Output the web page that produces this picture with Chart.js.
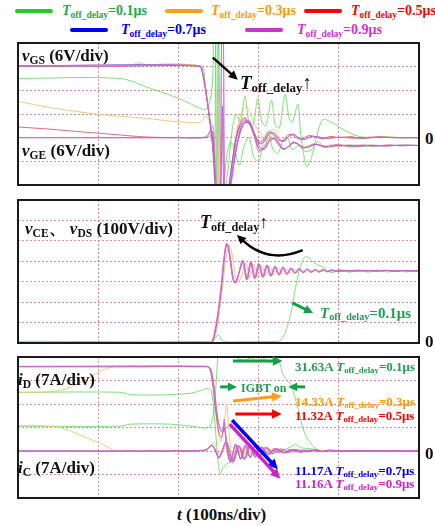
<!DOCTYPE html>
<html>
<head>
<meta charset="utf-8">
<script src="https://cdn.jsdelivr.net/npm/chart.js@4.4.0/dist/chart.umd.min.js"></script>
<style>
body { margin: 0; background: #fff; }
#wrap { position: relative; width: 435px; height: 526px; font-family: "Liberation Serif", "Times New Roman", serif; font-weight: bold; overflow: hidden; }
.p { position: absolute; }
.t { position: absolute; white-space: nowrap; line-height: 1; transform: translateY(-50%); z-index: 5; }
.t i { font-style: italic; }
.t sub { font-size: 0.68em; vertical-align: -0.28em; line-height: 0; }
.sw { position: absolute; height: 4px; border-radius: 2px; }
</style>
</head>
<body>
<div id="wrap">
  <div class="p" style="left:16px;top:41px;width:405px;height:146px"><canvas id="c1"></canvas></div>
  <div class="p" style="left:16px;top:198px;width:405px;height:147px"><canvas id="c2"></canvas></div>
  <div class="p" style="left:16px;top:355px;width:405px;height:145px"><canvas id="c3"></canvas></div>

  <!-- legend -->
  <div class="sw" style="left:15px;top:9px;width:38px;background:#22cc22"></div>
  <div class="t" style="left:62px;top:11px;font-size:14px;color:#22aa44"><i>T</i><sub>off_delay</sub>=0.1μs</div>
  <div class="sw" style="left:165px;top:9px;width:38px;background:#ff9c1a"></div>
  <div class="t" style="left:211px;top:11px;font-size:14px;color:#ff9900"><i>T</i><sub>off_delay</sub>=0.3μs</div>
  <div class="sw" style="left:304px;top:9px;width:38px;background:#ff0000"></div>
  <div class="t" style="left:351px;top:11px;font-size:14px;color:#ff0000"><i>T</i><sub>off_delay</sub>=0.5μs</div>
  <div class="sw" style="left:70px;top:28px;width:38px;background:#0000ff"></div>
  <div class="t" style="left:121px;top:30px;font-size:14px;color:#0000ee"><i>T</i><sub>off_delay</sub>=0.7μs</div>
  <div class="sw" style="left:245px;top:28px;width:38px;background:#cc33cc"></div>
  <div class="t" style="left:297px;top:30px;font-size:14px;color:#cc33cc"><i>T</i><sub>off_delay</sub>=0.9μs</div>

  <!-- panel 1 -->
  <div class="t" style="left:22px;top:55px;font-size:17px;color:#111"><i>v</i><sub>GS</sub> (6V/div)</div>
  <div class="t" style="left:22px;top:150px;font-size:17px;color:#111"><i>v</i><sub>GE</sub> (6V/div)</div>
  <div class="t" style="left:240px;top:82px;font-size:19px;color:#111"><i>T</i><sub>off_delay</sub><span style="font-weight:normal">↑</span></div>
  <div class="t" style="left:425px;top:138px;font-size:17px;color:#111">0</div>

  <!-- panel 2 -->
  <div class="t" style="left:25px;top:228px;font-size:17px;color:#111"><i>v</i><sub>CE</sub>、 <i>v</i><sub>DS</sub> (100V/div)</div>
  <div class="t" style="left:200px;top:222px;font-size:18px;color:#111"><i>T</i><sub>off_delay</sub><span style="font-weight:normal">↑</span></div>
  <div class="t" style="left:320px;top:313px;font-size:15px;color:#20a050"><i>T</i><sub>off_delay</sub>=0.1μs</div>
  <div class="t" style="left:425px;top:341px;font-size:17px;color:#111">0</div>

  <!-- panel 3 -->
  <div class="t" style="left:18px;top:379px;font-size:17px;color:#111"><i>i</i><sub>D</sub> (7A/div)</div>
  <div class="t" style="left:18px;top:467px;font-size:17px;color:#111"><i>i</i><sub>C</sub> (7A/div)</div>
  <div class="t" style="left:295px;top:366px;font-size:13px;color:#20a050">31.63A <i>T</i><sub>off_delay</sub>=0.1μs</div>
  <div class="t" style="left:241px;top:388px;font-size:12px;color:#20a050">IGBT on</div>
  <div class="t" style="left:295px;top:401px;font-size:13px;color:#ff9900">14.33A <i>T</i><sub>off_delay</sub>=0.3μs</div>
  <div class="t" style="left:295px;top:415px;font-size:13px;color:#ff0000">11.32A <i>T</i><sub>off_delay</sub>=0.5μs</div>
  <div class="t" style="left:295px;top:470px;font-size:13px;color:#0000ee">11.17A <i>T</i><sub>off_delay</sub>=0.7μs</div>
  <div class="t" style="left:295px;top:483px;font-size:13px;color:#cc22cc">11.16A <i>T</i><sub>off_delay</sub>=0.9μs</div>
  <div class="t" style="left:425px;top:453px;font-size:17px;color:#111">0</div>

  <div class="t" style="left:177px;top:514px;font-size:17px;color:#111"><i>t</i> (100ns/div)</div>
</div>

<script>
// time axis in ns (5 div x 100ns)
const timeMin = 0;
const timeMax = 500;

// panel 1: gate voltages, V
const vgsGreen = [[0,18.2],[120,18.2],[228,18.2],[233,14],[238,6],[242,0],[245,-10],[247,30],[249,30],[251,-15],[255,-15],[260,-5],[265,-1],[270,-3],[276,-7],[282,-2],[288,0],[294,-5],[300,-6],[306,-1],[312,1],[318,-3],[324,-4],[330,-1],[336,0],[342,-3],[350,-2],[358,-3.5],[366,-3],[374,-1],[382,-2.5],[390,-2],[400,-2.2],[415,-1.8],[430,-2.2],[450,-2],[475,-1.9],[500,-2]];
const vgsOrange = [[0,18.3],[80,18.2],[140,18.2],[150,19],[160,18.5],[175,18.2],[226,18.2],[231,15],[236,9],[240,4],[243,-2],[246,-10],[249,-15],[251,10],[253,-15],[258,-15],[262,-15],[266,-10],[270,-2],[275,3],[281,5],[287,4],[293,1],[298,-2],[303,-3.5],[308,-2],[313,0],[318,0.5],[324,-1],[330,-3],[336,-2.5],[342,-1],[348,-1.5],[354,-2.5],[362,-2],[370,-1.6],[380,-2.3],[390,-1.8],[400,-2.2],[412,-1.9],[425,-2.1],[440,-1.9],[455,-2.1],[470,-2],[485,-2],[500,-2]];
const vgsRed = [[0,18.1],[120,18.1],[225,18.1],[230,16.5],[234,12],[238,6],[241,1],[244,-5],[247,-13],[251,-15],[255,-13],[259,-15],[264,-13],[268,-8],[273,-2],[278,2.5],[284,4],[290,3],[296,0],[302,-2.5],[308,-2.8],[314,-1],[320,-0.2],[326,-1.5],[332,-2.8],[338,-2.2],[344,-1.3],[350,-1.7],[357,-2.5],[364,-2.2],[372,-1.7],[380,-2.1],[390,-2.3],[400,-1.9],[412,-2],[425,-2.2],[440,-1.9],[455,-2.1],[470,-2],[485,-1.9],[500,-2]];
const vgsBlue = [[0,18.2],[226,18.2],[231,15.5],[235,10.5],[239,4.5],[242,-0.5],[245,-8],[248,-15],[253,-14],[257,-15],[262,-14],[267,-9],[272,-3],[277,1.5],[283,3.8],[289,3.5],[295,0.2],[301,-3],[307,-2.8],[313,-0.8],[319,-0.2],[325,-1.8],[331,-2.9],[337,-2.3],[343,-1.3],[349,-1.6],[355,-2.5],[362,-2.3],[370,-1.7],[378,-2],[386,-2.3],[395,-1.9],[405,-2],[418,-2.2],[432,-1.9],[448,-2.1],[465,-2],[482,-1.9],[500,-2]];
const vgsMagenta = [[0,18.2],[120,18.2],[226,18.2],[231,16],[235,11],[239,5],[242,0],[245,-7],[248,-15],[252,-12],[254,26],[256,26],[258,-15],[263,-14],[267,-10],[271,-4],[277,1],[283,4],[289,4.2],[295,0.5],[300,-3.5],[306,-2.5],[312,-0.5],[318,0],[324,-1.5],[330,-3],[336,-2.5],[342,-1.2],[348,-1.5],[354,-2.6],[361,-2.4],[368,-1.6],[375,-1.8],[382,-2.4],[390,-2.1],[398,-1.7],[406,-2],[414,-2.3],[422,-1.9],[432,-1.9],[442,-2.2],[452,-2],[464,-1.8],[476,-2.1],[488,-2],[500,-1.9]];

const vgeGreen = [[0,15],[127,15],[165,12.5],[200,10],[231,7.1],[235,7.3],[238,8.5],[241,11],[243,16],[244,30],[246,30],[248,-15],[250,28],[253,-10],[257,-14],[262,-8],[267,2],[272,6],[277,4],[283,10.5],[288,4],[293,3],[299,10],[304,4],[309,3],[316,9.5],[321,3],[326,2.5],[333,11],[338,5],[342,4],[349,8.5],[352,2],[356,-4],[360,-7.3],[366,-5],[372,0],[380,4.6],[390,4],[402,2.5],[414,1.2],[426,0.3],[440,0],[460,0.2],[480,0],[500,0]];
const vgeOrange = [[0,9.2],[25,8.2],[50,7.3],[75,6.6],[100,5.9],[130,5.4],[160,4.9],[190,4.2],[220,3.8],[228,4],[234,5.4],[239,4],[242,0],[246,-8],[248,-15],[252,-15],[256,5],[258,-12],[262,-15],[268,-8],[273,2],[278,6],[284,8],[290,6],[296,3],[302,1],[308,-1],[314,1.5],[320,2],[326,0],[332,-1],[338,0.5],[344,1],[350,0],[356,-0.5],[362,0.5],[370,0.3],[380,-0.3],[390,0.3],[400,0],[415,0.3],[430,-0.2],[450,0.2],[475,0],[500,0]];
const vgeRed = [[0,2.7],[30,2.3],[60,1.8],[90,1.3],[120,0.8],[150,0.3],[170,0.1],[200,0],[235,0],[240,0.5],[243,1.5],[246,-10],[249,-15],[253,-15],[257,-12],[261,-14],[266,-8],[271,-1],[276,3],[282,5],[288,4],[294,1.5],[300,-1],[306,-0.5],[312,1.5],[318,1],[324,-0.5],[330,-0.8],[336,0.6],[342,0.8],[348,-0.2],[355,-0.3],[362,0.5],[370,0.2],[380,-0.2],[390,0.3],[400,0],[415,0.2],[430,-0.2],[450,0.2],[470,0],[500,0]];
const vgeBlue = [[0,0],[200,0],[232,0],[237,0.5],[241,2],[244,-3],[247,-15],[252,-14],[255,8],[257,-15],[262,-13],[267,-6],[272,0],[277,3],[283,4.5],[289,3.5],[295,1],[301,-1.5],[307,-1],[313,1],[319,1.2],[325,-0.3],[331,-1],[337,0.2],[343,0.8],[350,0],[357,-0.5],[365,0.3],[375,0.2],[385,-0.2],[400,0.1],[420,-0.1],[440,0.1],[470,0],[500,0]];
const vgeMagenta = [[0,0],[225,0],[234,0.3],[239,1.5],[243,3],[245,-2],[248,-14],[252,-15],[254,25],[256,25],[258,-15],[263,-14],[268,-7],[273,0],[278,3],[284,4.5],[290,3.5],[296,0.5],[302,-1.5],[308,-0.5],[314,1],[320,1],[326,-0.5],[332,-0.8],[338,0.5],[344,0.7],[351,-0.2],[358,-0.4],[366,0.3],[376,0.1],[386,-0.2],[400,0.1],[420,-0.1],[440,0.1],[470,0],[500,0]];

// panel 2: vCE / vDS, V
const vceGreen = [[0,8],[240,8],[245,20],[250,39],[254,15],[258,6],[280,6],[310,7],[325,9],[330,25],[335,70],[340,140],[343,202],[347,290],[351,360],[355,405],[358,422],[362,420],[366,405],[370,392],[374,382],[380,372],[387,350],[393,345],[399,356],[405,357],[411,347],[417,349],[423,358],[429,355],[435,347],[441,350],[447,357],[453,355],[459,348],[465,350],[471,356],[477,355],[483,348],[489,350],[495,356],[500,354]];
const vceOrange = [[0,0],[240,0],[244,8],[248,70],[252,170],[255,270],[258,380],[261,450],[263,478],[266,455],[269,380],[272,318],[275,300],[279,330],[284,392],[289,320],[294,385],[299,325],[304,378],[309,330],[314,374],[319,334],[324,370],[329,338],[334,366],[339,341],[344,363],[349,344],[354,361],[359,346],[364,359],[369,348],[374,358],[379,349],[384,357],[389,350],[394,356],[400,351],[410,355],[420,351],[430,355],[440,351],[450,355],[460,351],[470,355],[480,351],[490,355],[500,352]];
const vceRed = [[0,0],[239,0],[243,10],[247,75],[251,180],[254,280],[257,395],[259,460],[261,485],[263,465],[266,385],[269,312],[272,295],[276,345],[281,400],[286,312],[291,394],[296,318],[301,386],[306,324],[311,380],[316,329],[321,374],[326,334],[331,370],[336,338],[341,366],[346,342],[351,363],[356,345],[361,361],[366,347],[371,359],[376,348],[381,358],[386,349],[391,357],[396,350],[402,356],[410,351],[420,356],[430,351],[440,356],[450,351],[460,356],[470,351],[480,356],[490,351],[500,354]];
const vceBlue = [[0,0],[238,0],[242,6],[246,65],[250,165],[253,265],[256,385],[258,450],[260,486],[262,468],[265,392],[268,312],[271,294],[275,338],[280,404],[285,310],[290,396],[295,316],[300,388],[305,322],[310,380],[315,328],[320,374],[325,334],[330,370],[335,338],[340,366],[345,342],[350,363],[355,345],[360,361],[365,347],[370,359],[375,348],[380,358],[386,349],[392,357],[400,350],[410,356],[420,351],[432,356],[445,351],[458,356],[470,351],[485,355],[500,352]];
const vceMagenta = [[0,0],[238,0],[242,8],[246,70],[250,170],[253,270],[256,390],[258,455],[260,488],[262,470],[265,390],[268,310],[271,292],[275,340],[280,406],[285,308],[290,398],[295,314],[300,390],[305,320],[310,382],[315,326],[320,376],[325,332],[330,372],[335,336],[340,368],[345,340],[350,365],[355,343],[360,362],[365,345],[370,361],[375,347],[380,360],[385,348],[390,359],[395,349],[400,358],[405,350],[410,357],[415,350],[420,357],[425,351],[430,357],[435,351],[440,356],[445,351],[450,356],[455,351],[460,356],[465,351],[470,356],[475,351],[480,356],[485,351],[490,356],[495,351],[500,355]];

// panel 3: iD (upper) and iC (lower), A
const idGreen = [[0,17.5],[127,17.5],[140,16.8],[180,16.7],[215,17.2],[228,18],[236,18.6],[241,18],[245,10],[249,-2],[252,-6.8],[256,-5],[260,-3.9],[265,-3],[270,-1.5],[275,-0.5],[280,0.5],[285,-0.8],[290,0.8],[295,-0.5],[300,0.6],[306,-0.3],[312,0.5],[320,-0.2],[330,0.3],[340,1.2],[346,2],[352,1],[360,0.8],[370,0.5],[380,0],[390,0.2],[400,-0.1],[420,0.1],[440,0],[460,0.1],[480,0],[500,0]];
const idOrange = [[0,17.5],[30,17.5],[45,17.8],[60,18.5],[75,20],[90,22],[105,24],[120,25.2],[130,25],[140,25.4],[155,24.9],[170,25.3],[185,25],[200,25.3],[215,25],[230,25.2],[237,25],[241,23],[244,19],[247,12],[250,5],[253,3],[257,8],[260,14],[263,6],[266,-1],[269,-2.5],[272,1.5],[276,-1],[280,-2],[284,1.2],[288,0.8],[292,-1.2],[296,-0.3],[300,1],[305,0.4],[310,-0.8],[315,-0.3],[320,0.6],[326,0.2],[332,-0.5],[340,0.3],[350,-0.2],[360,0.3],[372,-0.2],[385,0.2],[400,-0.1],[415,0.2],[430,-0.1],[450,0.1],[470,0],[500,0]];
const idRed = [[0,25.1],[120,25.1],[235,25.1],[239,24.5],[242,21],[245,15],[248,9],[251,5],[254,4],[257,7],[260,2],[263,-2.5],[266,-3],[269,0.5],[272,1.8],[275,-1],[278,-2.2],[281,0.5],[284,1.6],[287,-0.8],[290,-1.8],[293,0.4],[296,1.3],[300,-0.6],[304,-1.2],[308,0.6],[312,0.9],[316,-0.6],[320,-0.7],[325,0.5],[330,0.5],[335,-0.4],[340,-0.3],[346,0.4],[352,0.2],[358,-0.3],[365,0],[372,0.3],[380,-0.2],[390,0.2],[400,-0.2],[412,0.1],[425,-0.1],[440,0.1],[460,0],[480,0.1],[500,0]];
const idBlue = [[0,25.2],[236,25.2],[240,24.4],[243,21.5],[246,15.5],[249,9.5],[252,6.5],[255,5.5],[257,8.5],[259,4.5],[262,-1.5],[265,-3.2],[268,-0.5],[271,2],[274,0.8],[277,-2.3],[280,-1.3],[283,1.7],[286,0.8],[289,-1.8],[292,-0.8],[295,1.4],[298,0.6],[301,-1.3],[305,-0.6],[309,1],[313,0.4],[317,-0.8],[321,0.6],[326,-0.5],[331,0.5],[336,-0.4],[342,0.4],[348,-0.3],[355,0.3],[362,-0.2],[370,0.2],[380,-0.2],[392,0.1],[405,-0.1],[420,0.1],[440,0],[460,0.1],[480,0],[500,0]];
const idMagenta = [[0,25.2],[120,25.2],[236,25.2],[240,24.6],[243,22],[246,16],[249,10],[252,7],[255,6],[257,9.5],[259,5],[262,-1],[265,-3.5],[268,-1],[271,2],[274,1],[277,-2.5],[280,-1.5],[283,1.8],[286,1],[289,-2],[292,-1],[295,1.5],[298,0.8],[301,-1.5],[304,-0.8],[307,1.2],[311,0.5],[315,-1],[319,0.8],[323,-0.6],[327,0.6],[332,-0.5],[337,0.5],[342,-0.4],[347,0.4],[352,-0.3],[358,0.3],[364,-0.3],[370,0.3],[378,-0.2],[386,0.2],[394,-0.2],[402,0.2],[412,-0.1],[422,0.1],[435,-0.1],[450,0.1],[465,0],[480,0.1],[500,0]];

const icGreen = [[0,7.4],[127,7.4],[140,8],[190,8],[215,7.4],[228,7],[235,6.8],[240,7.5],[244,12],[247,20],[249,28],[251,32],[260,33],[268,29],[275,27.5],[282,27],[290,27.7],[298,26.8],[306,27.5],[314,26.5],[322,27],[326,26.5],[330,23],[335,21],[340,20],[345,16],[350,12],[355,7],[360,4],[366,2],[372,0.6],[380,0],[390,0.4],[400,0],[420,0.2],[440,0],[460,0.1],[480,0],[500,0]];
const icOrange = [[0,7.5],[30,7.5],[45,7.2],[60,6.5],[75,5],[90,3.5],[105,2],[118,0.3],[125,-0.2],[135,0.3],[150,-0.2],[165,0.3],[180,-0.2],[195,0.3],[210,0],[225,0.2],[235,0.6],[240,1.6],[244,2.5],[248,0.5],[252,-1.5],[256,0],[260,2],[264,0.5],[267,-2.5],[270,-3],[273,0],[276,1.8],[279,0.5],[282,-2.2],[285,-1.5],[288,1],[291,1.3],[294,-1],[297,-1.5],[300,0.5],[304,1],[308,-0.5],[312,-0.8],[316,0.6],[321,0.5],[326,-0.5],[332,-0.3],[338,0.4],[345,0.2],[352,-0.3],[360,0.2],[370,-0.1],[380,0.2],[392,-0.1],[405,0.1],[420,-0.1],[440,0.1],[460,0],[480,0.1],[500,0]];
const icRed = [[0,0],[200,0],[232,0.1],[237,0.7],[241,1.6],[244,1],[247,-0.5],[250,-2.2],[253,-0.8],[256,1.2],[259,2.5],[262,0.5],[265,-2.5],[268,-3],[271,-0.5],[274,1.6],[277,0.6],[280,-2.2],[283,-2],[286,0.5],[289,1.4],[292,0],[295,-1.6],[298,-1],[301,0.8],[304,1],[308,-0.3],[312,-0.9],[316,-0.2],[320,0.6],[325,0.3],[330,-0.5],[335,-0.2],[340,0.4],[346,0.2],[352,-0.3],[360,0.1],[368,0.2],[376,-0.2],[386,0.2],[396,-0.1],[408,0.1],[420,-0.1],[440,0.1],[460,0],[480,0.1],[500,0]];
const icBlue = [[0,0],[200,0],[233,0.2],[238,0.9],[242,1.7],[245,0.8],[248,-1],[251,-2],[254,-0.5],[257,1.5],[260,2.8],[263,0.8],[266,-2.2],[269,-3.2],[272,-0.8],[275,1.5],[278,0.8],[281,-2],[284,-2.2],[287,0.2],[290,1.5],[293,0.3],[296,-1.7],[299,-1.2],[302,0.6],[305,1.1],[309,-0.2],[313,-1],[317,-0.3],[321,0.6],[326,0.4],[331,-0.5],[336,-0.2],[341,0.4],[347,0.2],[353,-0.3],[360,0],[368,0.2],[378,-0.2],[388,0.2],[400,-0.1],[412,0.1],[425,-0.1],[445,0.1],[465,0],[485,0.1],[500,0]];
const icMagenta = [[0,0],[200,0],[232,0.2],[237,0.8],[241,1.8],[244,1.2],[247,0],[250,-2],[253,-1],[256,1],[259,3],[262,1],[265,-2],[268,-3.5],[271,-1],[274,1.5],[277,1],[280,-2],[283,-2.5],[286,0],[289,1.5],[292,0.5],[295,-1.8],[298,-1.5],[301,0.5],[304,1.2],[308,0],[312,-1],[316,-0.5],[320,0.6],[325,0.5],[330,-0.5],[335,-0.3],[340,0.4],[346,0.3],[352,-0.3],[358,-0.1],[365,0.3],[372,0],[380,-0.2],[390,0.2],[400,-0.1],[412,0.1],[425,-0.1],[440,0.1],[460,0],[480,0.1],[500,0]];

const traceGreen = 'rgba(100,220,100,0.85)';
const traceOrange = 'rgba(240,195,110,0.9)';
const traceRed = 'rgba(215,70,100,0.8)';
const traceBlue = 'rgba(130,90,215,0.8)';
const traceMagenta = 'rgba(225,100,225,0.8)';
const gridColor = 'rgba(200,105,120,0.75)';

// arrows are given in data units: [time, value]
const framePlugin = {
  id: 'frame',
  afterDraw(chart, args, opts) {
    const a = chart.chartArea, ctx = chart.ctx;
    const xs = chart.scales.x, ys = chart.scales.y;
    ctx.save();
    ctx.strokeStyle = '#1a1a1a';
    ctx.lineWidth = 2;
    ctx.strokeRect(a.left, a.top, a.right - a.left, a.bottom - a.top);
    (opts.arrows || []).forEach(ar => {
      const p = q => [xs.getPixelForValue(q[0]), ys.getPixelForValue(q[1])];
      const s = p(ar.from), e = p(ar.to);
      const c = ar.ctrl ? p(ar.ctrl) : s;
      const ang = Math.atan2(e[1] - c[1], e[0] - c[0]);
      const h = ar.head || 10;
      const bx = e[0] - Math.cos(ang) * h * 0.8, by = e[1] - Math.sin(ang) * h * 0.8;
      ctx.strokeStyle = ar.color;
      ctx.fillStyle = ar.color;
      ctx.lineWidth = ar.w || 3;
      ctx.beginPath();
      ctx.moveTo(s[0], s[1]);
      if (ar.ctrl) ctx.quadraticCurveTo(c[0], c[1], bx, by);
      else ctx.lineTo(bx, by);
      ctx.stroke();
      ctx.beginPath();
      ctx.moveTo(e[0], e[1]);
      ctx.lineTo(e[0] - Math.cos(ang - 0.45) * h, e[1] - Math.sin(ang - 0.45) * h);
      ctx.lineTo(e[0] - Math.cos(ang + 0.45) * h, e[1] - Math.sin(ang + 0.45) * h);
      ctx.closePath();
      ctx.fill();
    });
    ctx.restore();
  }
};

function makePanel(id, series, yMin, yMax, yStep, arrows) {
  return new Chart(document.getElementById(id), {
    type: 'line',
    data: {
      datasets: series.map(s => ({
        data: s[0].map(p => ({ x: p[0], y: p[1] })),
        borderColor: s[1],
        borderWidth: 1,
        pointRadius: 0,
        tension: 0.3,
        fill: false
      }))
    },
    options: {
      responsive: true,
      maintainAspectRatio: false,
      animation: false,
      layout: { padding: 2 },
      plugins: {
        legend: { display: false },
        tooltip: { enabled: false },
        frame: { arrows: arrows }
      },
      scales: {
        x: {
          type: 'linear', min: timeMin, max: timeMax,
          ticks: { display: false, stepSize: 100 },
          grid: { color: gridColor, drawTicks: false, lineWidth: 1 },
          border: { display: false, dash: [2, 2] }
        },
        y: {
          min: yMin, max: yMax,
          ticks: { display: false, stepSize: yStep },
          grid: { color: gridColor, drawTicks: false, lineWidth: 1 },
          border: { display: false, dash: [2, 2] }
        }
      }
    },
    plugins: [framePlugin]
  });
}

makePanel('c1', [
  [vgsMagenta, traceMagenta], [vgeMagenta, traceMagenta],
  [vgsBlue, traceBlue], [vgeBlue, traceBlue],
  [vgsRed, traceRed], [vgeRed, traceRed],
  [vgsOrange, traceOrange], [vgeOrange, traceOrange],
  [vgsGreen, traceGreen], [vgeGreen, traceGreen]
], -12, 24, 6, [
  { from: [243, 20.3], to: [274, 14.7], color: '#000', w: 2.5, head: 10 }
]);

makePanel('c2', [
  [vceMagenta, traceMagenta], [vceBlue, traceBlue], [vceRed, traceRed],
  [vceOrange, traceOrange], [vceGreen, traceGreen]
], 0, 700, 100, [
  { from: [355, 455], ctrl: [312, 385], to: [273, 529], color: '#000', w: 2.5, head: 10 },
  { from: [342, 196], to: [368, 147], color: '#13a04a', w: 3, head: 10 }
]);

makePanel('c3', [
  [idMagenta, traceMagenta], [icMagenta, traceMagenta],
  [idBlue, traceBlue], [icBlue, traceBlue],
  [idRed, traceRed], [icRed, traceRed],
  [idOrange, traceOrange], [icOrange, traceOrange],
  [idGreen, traceGreen], [icGreen, traceGreen]
], -14, 28, 7, [
  { from: [268, 26.8], to: [330, 26.8], color: '#13a04a', w: 3, head: 11 },
  { from: [252, 19.1], to: [273, 19.1], color: '#13a04a', w: 3, head: 10 },
  { from: [358, 19.1], to: [337, 19.1], color: '#13a04a', w: 3, head: 10 },
  { from: [268, 14.9], to: [329, 16.4], color: '#ff9c1a', w: 3, head: 11 },
  { from: [271, 11], to: [329, 11], color: '#ff0000', w: 3, head: 11 },
  { from: [267, 9.2], to: [324, -5.4], color: '#0000ff', w: 3.5, head: 11 },
  { from: [264, 8], to: [327, -8.3], color: '#cc22cc', w: 3.5, head: 11 }
]);
</script>
</body>
</html>
